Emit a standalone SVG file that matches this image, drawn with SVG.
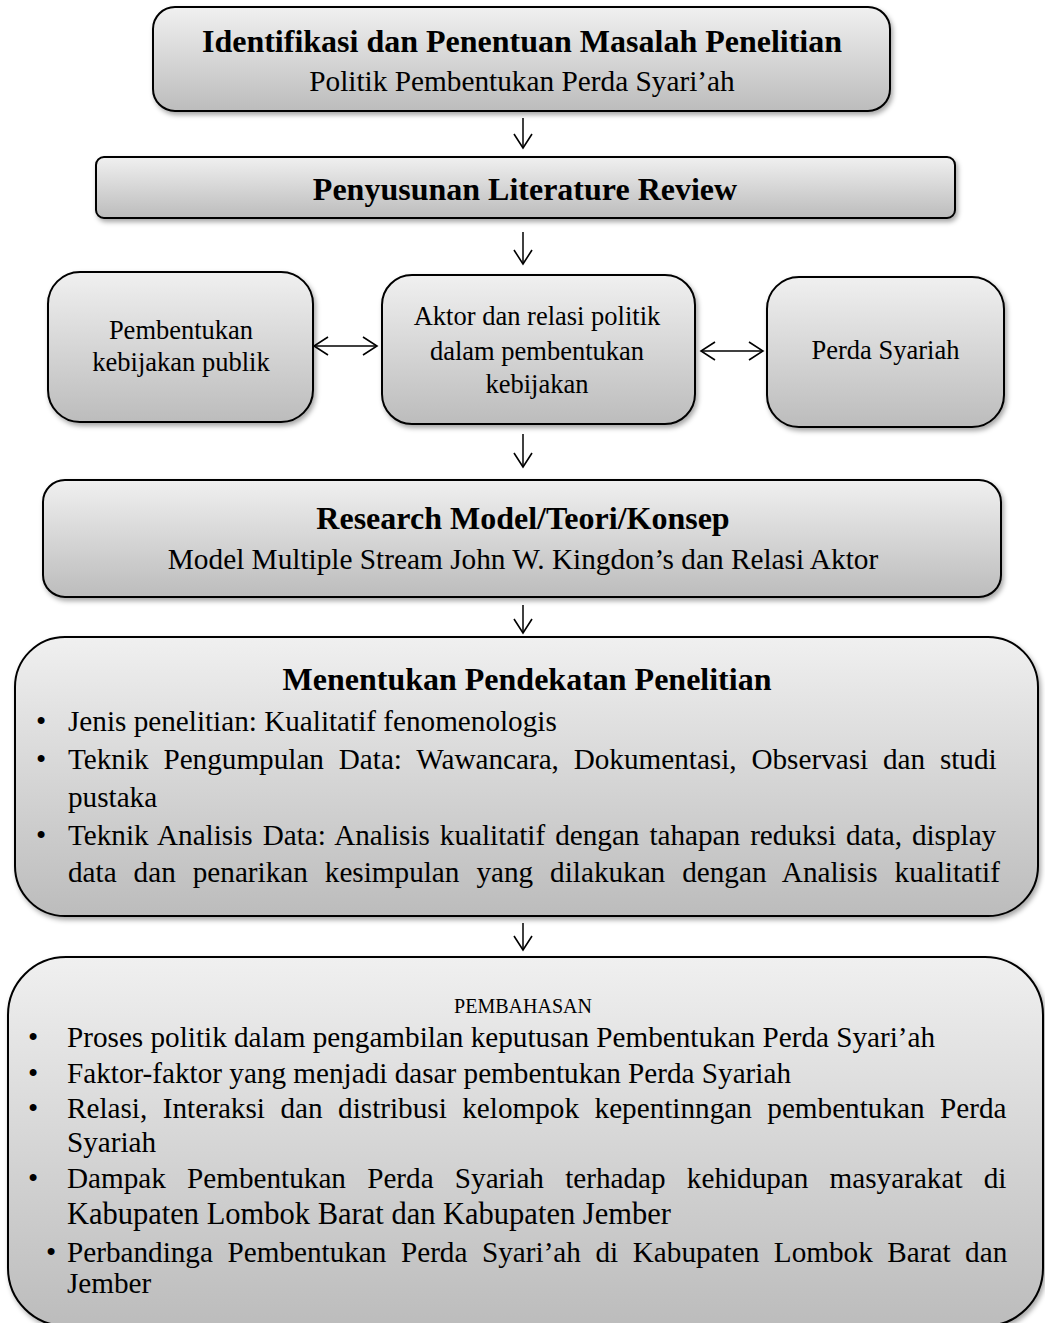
<svg xmlns="http://www.w3.org/2000/svg" width="1045" height="1323" viewBox="0 0 1045 1323">
<defs>
<linearGradient id="g" x1="0" y1="0" x2="0" y2="1">
<stop offset="0" stop-color="#f0f0f0"/>
<stop offset="1" stop-color="#bcbcbc"/>
</linearGradient>
<filter id="sh" x="-5%" y="-5%" width="115%" height="120%">
<feDropShadow dx="2" dy="3" stdDeviation="2.5" flood-color="#000" flood-opacity="0.35"/>
</filter>
<marker id="ah" viewBox="0 0 20 20" refX="18" refY="10" markerWidth="20" markerHeight="20" markerUnits="userSpaceOnUse" orient="auto-start-reverse">
<path d="M4 1 L18 10 L4 19" fill="none" stroke="#000" stroke-width="1.6"/>
</marker>
</defs>
<style>
.box{fill:url(#g);stroke:#000;stroke-width:2;filter:url(#sh)}
.t{font-family:"Liberation Serif","Times New Roman",serif;fill:#000}
.b{font-weight:bold;font-size:32px}
.s{font-size:29.3px}
.m{font-size:26.5px}
.l{font-size:29.2px}
.c{text-anchor:middle}
.con{stroke:#000;stroke-width:1.5;fill:none}
</style>
<g id="connectors">
<line class="con" x1="523" y1="118" x2="523" y2="148" marker-end="url(#ah)"/>
<line class="con" x1="523" y1="232" x2="523" y2="264" marker-end="url(#ah)"/>
<line class="con" x1="314" y1="346" x2="377" y2="346" marker-start="url(#ah)" marker-end="url(#ah)"/>
<line class="con" x1="701" y1="351" x2="763" y2="351" marker-start="url(#ah)" marker-end="url(#ah)"/>
<line class="con" x1="523" y1="434" x2="523" y2="467" marker-end="url(#ah)"/>
<line class="con" x1="523" y1="605" x2="523" y2="633" marker-end="url(#ah)"/>
<line class="con" x1="523" y1="923" x2="523" y2="950" marker-end="url(#ah)"/>
</g>
<g id="n1">
<rect class="box" x="153" y="7" width="737" height="104" rx="22"/>
<text class="t b c" x="522" y="52">Identifikasi dan Penentuan Masalah Penelitian</text>
<text class="t s c" x="522" y="91">Politik Pembentukan Perda Syari’ah</text>
</g>
<g id="n2">
<rect class="box" x="96" y="157" width="859" height="61" rx="8"/>
<text class="t b c" x="525" y="200">Penyusunan Literature Review</text>
</g>
<g id="n3">
<rect class="box" x="48" y="272" width="265" height="150" rx="32"/>
<text class="t m c" x="181" y="339">Pembentukan</text>
<text class="t m c" x="181" y="371">kebijakan publik</text>
</g>
<g id="n4">
<rect class="box" x="382" y="275" width="313" height="149" rx="30"/>
<text class="t m c" x="537" y="325">Aktor dan relasi politik</text>
<text class="t m c" x="537" y="360">dalam pembentukan</text>
<text class="t m c" x="537" y="393">kebijakan</text>
</g>
<g id="n5">
<rect class="box" x="767" y="277" width="237" height="150" rx="32"/>
<text class="t m c" x="885.5" y="359">Perda Syariah</text>
</g>
<g id="n6">
<rect class="box" x="43" y="480" width="958" height="117" rx="22"/>
<text class="t b c" x="523" y="529">Research Model/Teori/Konsep</text>
<text class="t s c" x="523" y="569">Model Multiple Stream John W. Kingdon’s dan Relasi Aktor</text>
</g>
<g id="n7">
<rect class="box" x="15" y="637" width="1023" height="279" rx="50"/>
<text class="t b c" x="527" y="690">Menentukan Pendekatan Penelitian</text>
<text class="t l" x="36" y="731">•</text>
<text class="t l" x="68" y="731">Jenis penelitian: Kualitatif fenomenologis</text>
<text class="t l" x="36" y="769">•</text>
<text class="t l" x="68" y="769" word-spacing="7.5">Teknik Pengumpulan Data: Wawancara, Dokumentasi, Observasi dan studi</text>
<text class="t l" x="68" y="807">pustaka</text>
<text class="t l" x="36" y="845">•</text>
<text class="t l" x="68" y="845" word-spacing="2.67">Teknik Analisis Data: Analisis kualitatif dengan tahapan reduksi data, display</text>
<text class="t l" x="68" y="882" word-spacing="9.7">data dan penarikan kesimpulan yang dilakukan dengan Analisis kualitatif</text>
</g>
<g id="n8">
<rect class="box" x="8" y="957" width="1035" height="369" rx="58"/>
<text class="t c" x="523" y="1013" style="font-size:20px">PEMBAHASAN</text>
<text class="t l" x="28" y="1047">•</text>
<text class="t l" x="67" y="1047">Proses politik dalam pengambilan keputusan Pembentukan Perda Syari’ah</text>
<text class="t l" x="28" y="1083">•</text>
<text class="t l" x="67" y="1083">Faktor-faktor yang menjadi dasar pembentukan Perda Syariah</text>
<text class="t l" x="28" y="1118">•</text>
<text class="t l" x="67" y="1118" word-spacing="8.23">Relasi, Interaksi dan distribusi kelompok kepentinngan pembentukan Perda</text>
<text class="t l" x="67" y="1152">Syariah</text>
<text class="t l" x="28" y="1188">•</text>
<text class="t l" x="67" y="1188" word-spacing="13.9">Dampak Pembentukan Perda Syariah terhadap kehidupan masyarakat di</text>
<text class="t" x="67" y="1224" style="font-size:30.5px">Kabupaten Lombok Barat dan Kabupaten Jember</text>
<text class="t l" x="46" y="1262">•</text>
<text class="t l" x="67" y="1262" word-spacing="7.3">Perbandinga Pembentukan Perda Syari’ah di Kabupaten Lombok Barat dan</text>
<text class="t l" x="67" y="1293">Jember</text>
</g>
</svg>
